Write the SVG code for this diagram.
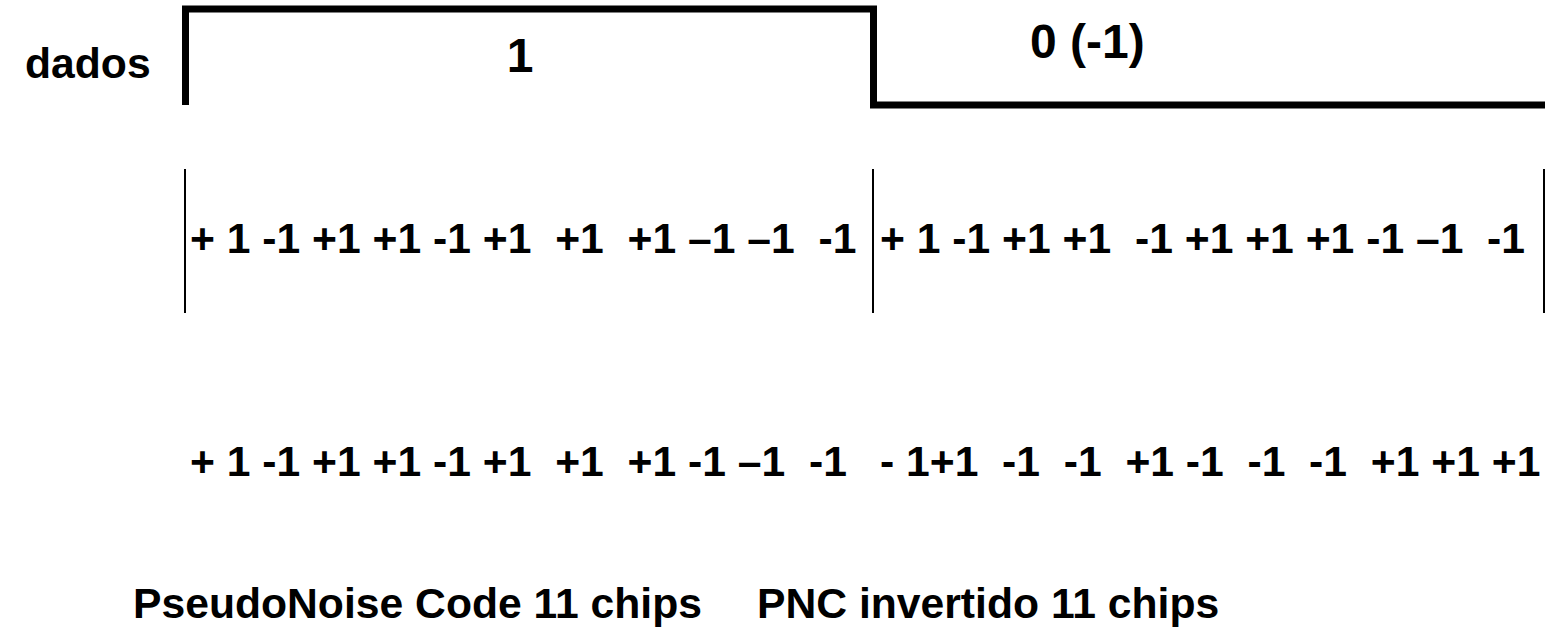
<svg xmlns="http://www.w3.org/2000/svg" width="1545" height="632" viewBox="0 0 1545 632">
  <style>
    .t { font-family: "Liberation Sans", Arial, sans-serif; font-weight: bold; font-size: 42.67px; fill: #000; white-space: pre; }
    .big { font-size: 48px; }
    .wave { fill: none; stroke: #000; stroke-width: 7; stroke-linejoin: miter; }
    .tick { stroke: #000; stroke-width: 2; }
  </style>
  <rect width="1545" height="632" fill="#fff"/>

  <!-- data signal: bit 1 then bit 0 -->
  <g id="data-signal">
    <polyline class="wave" points="185.5,105 185.5,9 873.5,9 873.5,105 1545,105"/>
    <text class="t" x="25" y="78">dados</text>
    <text class="t big" x="520" y="72" text-anchor="middle">1</text>
    <text class="t big" x="1030" y="58">0 (-1)</text>
  </g>

  <!-- chip boundaries -->
  <g id="chip-bounds">
    <line class="tick" x1="185" y1="169" x2="185" y2="313"/>
    <line class="tick" x1="873" y1="169" x2="873" y2="313"/>
    <line class="tick" x1="1544" y1="169" x2="1544" y2="313"/>
  </g>

  <!-- PN code repeated per bit -->
  <g id="pn-code">
    <text class="t" x="190" y="253">+ 1 -1 +1 +1 -1 +1  +1  +1 –1 –1  -1</text>
    <text class="t" x="880" y="253">+ 1 -1 +1 +1  -1 +1 +1 +1 -1 –1  -1</text>
  </g>

  <!-- spread output -->
  <g id="spread-output">
    <text class="t" x="190" y="476">+ 1 -1 +1 +1 -1 +1  +1  +1 -1 –1  -1</text>
    <text class="t" x="880" y="476">- 1+1  -1  -1  +1 -1  -1  -1  +1 +1 +1</text>
  </g>

  <g id="captions">
    <text class="t" x="133" y="618">PseudoNoise Code 11 chips</text>
    <text class="t" x="757" y="618">PNC invertido 11 chips</text>
  </g>
</svg>
